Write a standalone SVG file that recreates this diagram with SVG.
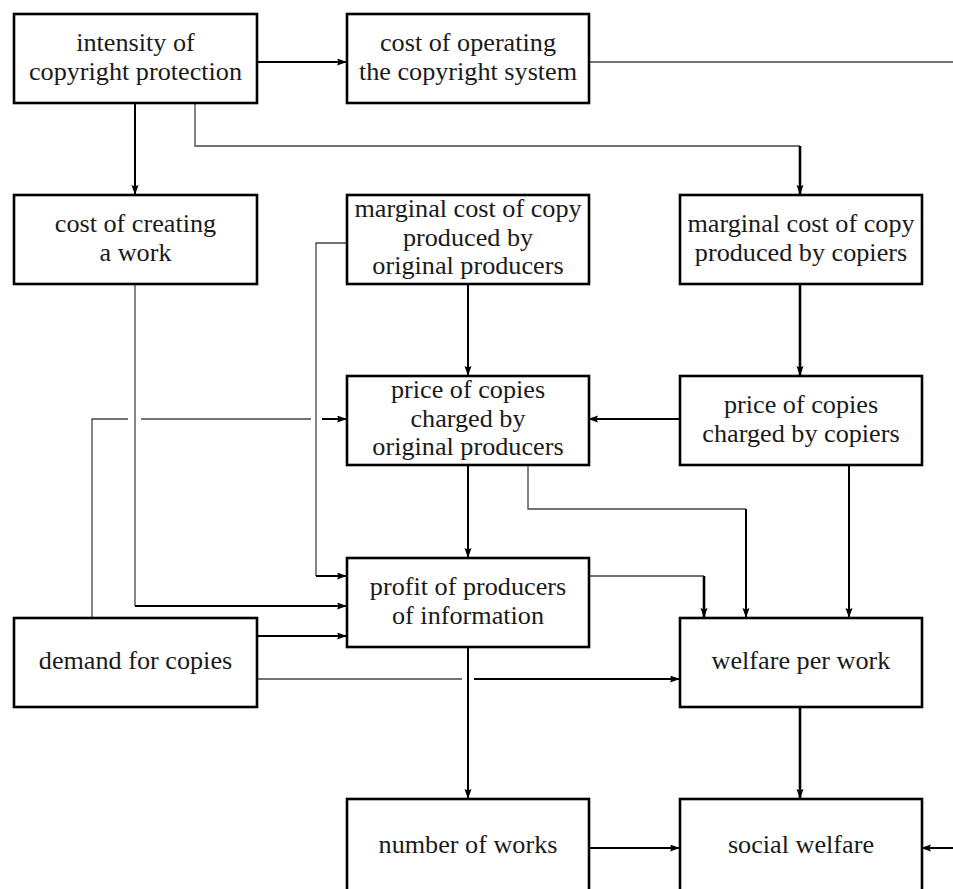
<svg xmlns="http://www.w3.org/2000/svg" width="953" height="889" viewBox="0 0 953 889" font-family="Liberation Serif, DejaVu Serif, serif">
<style>
  .box { fill: #fff; stroke: #000; stroke-width: 2.6; }
  .lbl { font-size: 26.2px; fill: #1a1a1a; text-anchor: middle; }
  .thin { fill: none; stroke: #444; stroke-width: 1.3; }
  .thick { fill: none; stroke: #000; stroke-width: 2; }
  .heavy { fill: none; stroke: #000; stroke-width: 2.6; }
</style>
<defs>
  <marker id="arr" markerUnits="userSpaceOnUse" markerWidth="10" markerHeight="8" refX="9" refY="3.5" orient="auto">
    <path d="M0,0 L10,3.5 L0,7 L1.5,3.5 z" fill="#000"/>
  </marker>
</defs>
<rect width="953" height="889" fill="#fff"/>

<g id="connectors">
  <path class="thick" d="M257 62 H346" marker-end="url(#arr)"/>
  <path class="thin" d="M589 62 H953"/>
  <path class="thick" d="M135 103 V194" marker-end="url(#arr)"/>
  <path class="thin" d="M195 103 V146 H800"/>
  <path class="heavy" d="M800 146 V194" marker-end="url(#arr)"/>
  <path class="thick" d="M468 285 V375" marker-end="url(#arr)"/>
  <path class="heavy" d="M800 285 V375" marker-end="url(#arr)"/>
  <path class="thick" d="M680 419 H589" marker-end="url(#arr)"/>
  <path class="thin" d="M346 243 H316 V576"/>
  <path class="thick" d="M316 576 H346" marker-end="url(#arr)"/>
  <path class="thin" d="M135 285 V606"/>
  <path class="thick" d="M135 606 H346" marker-end="url(#arr)"/>
  <path class="thin" d="M92 617 V419 H128"/>
  <path class="thin" d="M141 419 H311"/>
  <path class="thick" d="M322 419 H346" marker-end="url(#arr)"/>
  <path class="thick" d="M257 636 H346" marker-end="url(#arr)"/>
  <path class="thin" d="M257 679 H462"/>
  <path class="thick" d="M474 679 H679" marker-end="url(#arr)"/>
  <path class="thick" d="M468 466 V557" marker-end="url(#arr)"/>
  <path class="thin" d="M528 466 V509 H746"/>
  <path class="thick" d="M746 509 V617" marker-end="url(#arr)"/>
  <path class="thick" d="M849 466 V617" marker-end="url(#arr)"/>
  <path class="thin" d="M589 576 H704"/>
  <path class="heavy" d="M704 576 V617" marker-end="url(#arr)"/>
  <path class="thick" d="M468 647 V798" marker-end="url(#arr)"/>
  <path class="heavy" d="M800 708 V798" marker-end="url(#arr)"/>
  <path class="thick" d="M589 848 H679" marker-end="url(#arr)"/>
  <path class="thick" d="M953 848 H922" marker-end="url(#arr)"/>
</g>

<g id="intensity">
  <rect class="box" x="14" y="14" width="243" height="89"/>
  <text class="lbl" x="135.5" y="51">intensity of</text>
  <text class="lbl" x="135.5" y="79.5">copyright protection</text>
</g>
<g id="cost-operating">
  <rect class="box" x="347" y="14" width="242" height="89"/>
  <text class="lbl" x="468" y="51">cost of operating</text>
  <text class="lbl" x="468" y="79.5">the copyright system</text>
</g>
<g id="cost-creating">
  <rect class="box" x="14" y="195" width="243" height="89"/>
  <text class="lbl" x="135.5" y="232">cost of creating</text>
  <text class="lbl" x="135.5" y="260.5">a work</text>
</g>
<g id="marginal-orig">
  <rect class="box" x="347" y="195" width="242" height="89"/>
  <text class="lbl" x="468" y="217">marginal cost of copy</text>
  <text class="lbl" x="468" y="245.5">produced by</text>
  <text class="lbl" x="468" y="274">original producers</text>
</g>
<g id="marginal-copiers">
  <rect class="box" x="680" y="195" width="242" height="89"/>
  <text class="lbl" x="801" y="232">marginal cost of copy</text>
  <text class="lbl" x="801" y="260.5">produced by copiers</text>
</g>
<g id="price-orig">
  <rect class="box" x="347" y="376" width="242" height="89"/>
  <text class="lbl" x="468" y="398">price of copies</text>
  <text class="lbl" x="468" y="426.5">charged by</text>
  <text class="lbl" x="468" y="455">original producers</text>
</g>
<g id="price-copiers">
  <rect class="box" x="680" y="376" width="242" height="89"/>
  <text class="lbl" x="801" y="413">price of copies</text>
  <text class="lbl" x="801" y="441.5">charged by copiers</text>
</g>
<g id="profit">
  <rect class="box" x="347" y="558" width="242" height="89"/>
  <text class="lbl" x="468" y="595">profit of producers</text>
  <text class="lbl" x="468" y="623.5">of information</text>
</g>
<g id="demand">
  <rect class="box" x="14" y="618" width="243" height="89"/>
  <text class="lbl" x="135.5" y="669">demand for copies</text>
</g>
<g id="welfare-per-work">
  <rect class="box" x="680" y="618" width="242" height="89"/>
  <text class="lbl" x="801" y="669">welfare per work</text>
</g>
<g id="number-of-works">
  <rect class="box" x="347" y="799" width="242" height="110"/>
  <text class="lbl" x="468" y="853">number of works</text>
</g>
<g id="social-welfare">
  <rect class="box" x="680" y="799" width="242" height="110"/>
  <text class="lbl" x="801" y="853">social welfare</text>
</g>
</svg>
